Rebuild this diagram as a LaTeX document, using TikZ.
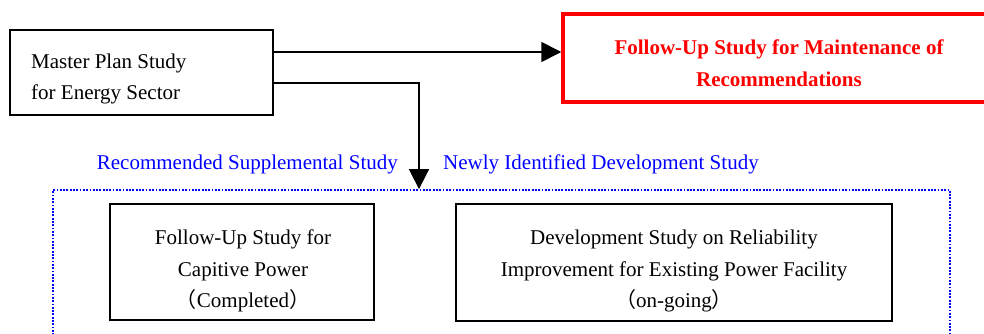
\documentclass[tikz,border=0pt]{standalone}
\usepackage{fontspec}
\setmainfont{Liberation Serif}
\newfontfamily\cjk{Noto Sans CJK SC}
\usetikzlibrary{arrows.meta}
\definecolor{pureblue}{RGB}{0,0,255}
\definecolor{purered}{RGB}{255,0,0}

\begin{document}
\begin{tikzpicture}[x=1pt,y=-1pt,
  box/.style={draw, line width=1.6pt, inner sep=0pt},
  txt/.style={font=\fontsize{21}{31.5}\selectfont, align=center, inner sep=0pt},
  redtxt/.style={font=\fontsize{21}{32}\selectfont\bfseries, text=purered, align=center, inner sep=0pt},
  lbl/.style={font=\fontsize{21}{25}\selectfont, text=pureblue, inner sep=0pt},
  link/.style={line width=1.6pt},
  head/.style={-{Triangle[length=20pt,width=20pt]}},
  groupbox/.style={draw=pureblue, line width=1.8pt, dash pattern=on 1.8pt off 1.5pt, inner sep=0pt}]
\useasboundingbox (0,0) rectangle (984,333);
\clip (0,0) rectangle (984,333);

% master plan study
\node[box, minimum width=263pt, minimum height=85pt] (master) at (141.5,72.5) {};
\node[txt, align=left, anchor=west] (masterT) at (31,79) {Master Plan Study\\for Energy Sector};

% follow-up study (red, runs off the right edge)
\node[draw=purered, line width=3.5pt, inner sep=0pt, minimum width=432pt, minimum height=88pt] (followup) at (779,58) {};
\node[redtxt] (followupT) at (779,63) {Follow-Up Study for Maintenance of\\Recommendations};

% dotted group of studies
\node[groupbox, minimum width=897pt, minimum height=155pt] (group) at (501.5,267.5) {};

\node[box, minimum width=264pt, minimum height=116pt] (capitive) at (242,262) {};
\node[txt] (capitiveT) at (243,271) {Follow-Up Study for\\Capitive Power\\{\cjk （}Completed{\cjk ）}};

\node[box, minimum width=436pt, minimum height=117pt] (reliab) at (674,262.5) {};
\node[txt] (reliabT) at (674,271) {Development Study on Reliability\\Improvement for Existing Power Facility\\{\cjk （}on-going{\cjk ）}};

% labels beside the downward arrow
\node[lbl, anchor=east] (recLbl) at (398,164) {Recommended Supplemental Study};
\node[lbl, anchor=west] (newLbl) at (443,164) {Newly Identified Development Study};

% connectors
\draw[link, head] (master.east |- 0,52) -- (followup.west |- 0,52);
\coordinate (drop) at (419,83);
\draw[link, head] (master.east |- drop) -- (drop) -- (drop |- group.north);
\end{tikzpicture}
\end{document}
